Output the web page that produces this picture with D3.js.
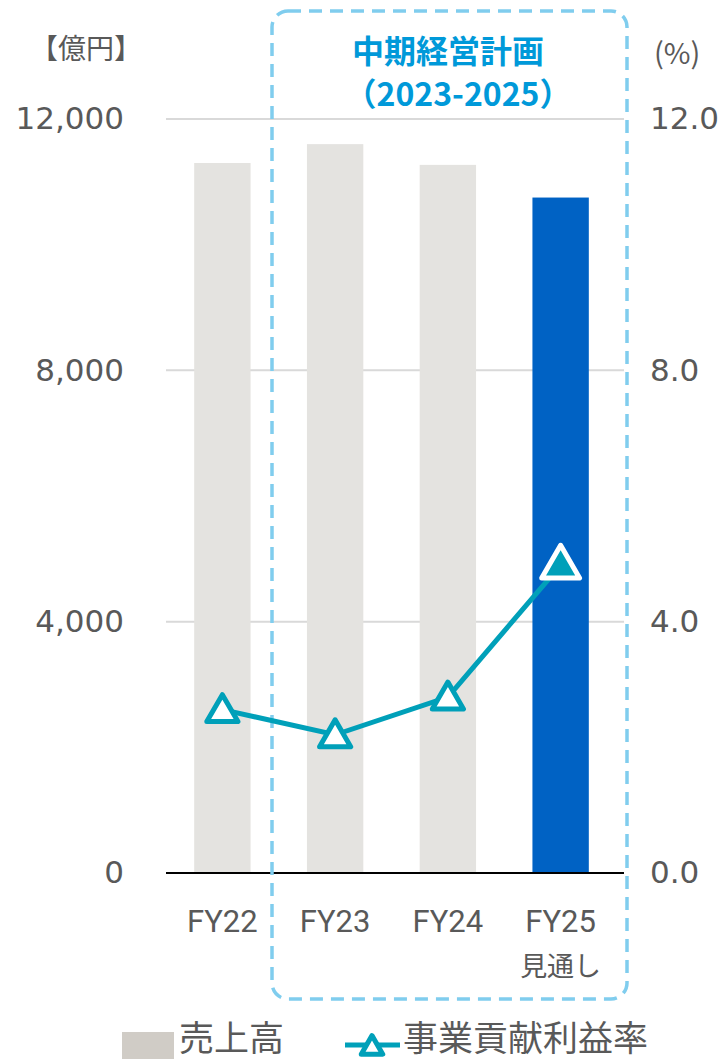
<!DOCTYPE html>
<html>
<head>
<meta charset="utf-8">
<script src="https://cdn.jsdelivr.net/npm/d3@7.9.0/dist/d3.min.js"></script>
<style>
  body { margin: 0; background: #fff; }
  svg { display: block; font-family: 'Noto Sans CJK JP', 'Noto Sans', sans-serif; }
</style>
</head>
<body>
<svg id="chart" width="726" height="1061"></svg>
<script>
const categories = ['FY22', 'FY23', 'FY24', 'FY25'];
const sales = [11300, 11600, 11270, 10750];
const margin = [2.6, 2.2, 2.8, 4.9];
const leftTicks = [0, 4000, 8000, 12000];
const rightTicks = [0, 4, 8, 12];

const svg = d3.select('#chart');
const gray = '#595959';

const x = d3.scaleBand().domain(categories).range([166, 617]).paddingInner(0.5).paddingOuter(0.25);
const yL = d3.scaleLinear().domain([0, 12000]).range([873, 119]);
const yR = d3.scaleLinear().domain([0, 12]).range([873, 119]);

// gridlines
svg.append('g')
  .selectAll('line')
  .data(leftTicks.filter((d) => d > 0))
  .join('line')
  .attr('x1', 166).attr('x2', 624)
  .attr('y1', (d) => yL(d)).attr('y2', (d) => yL(d))
  .attr('stroke', '#d9d9d9').attr('stroke-width', 2);

// left axis
const leftAxis = svg.append('g')
  .attr('transform', 'translate(124,0)')
  .call(d3.axisLeft(yL).tickValues(leftTicks).tickSize(0).tickPadding(0).tickFormat(d3.format(',')));
leftAxis.select('.domain').remove();
leftAxis.selectAll('text').attr('font-size', 31).attr('fill', gray).attr('font-family', 'DejaVu Sans');

// right axis
const rightAxis = svg.append('g')
  .attr('transform', 'translate(650,0)')
  .call(d3.axisRight(yR).tickValues(rightTicks).tickSize(0).tickPadding(0).tickFormat(d3.format('.1f')));
rightAxis.select('.domain').remove();
rightAxis.selectAll('text').attr('font-size', 31).attr('fill', gray).attr('font-family', 'DejaVu Sans');

// bars
svg.append('g')
  .selectAll('rect')
  .data(sales)
  .join('rect')
  .attr('x', (d, i) => x(categories[i]))
  .attr('width', x.bandwidth())
  .attr('y', (d) => yL(d))
  .attr('height', (d) => yL(0) - yL(d))
  .attr('fill', (d, i) => (i === 3 ? '#0062C4' : '#E4E3E0'));

// baseline
svg.append('line')
  .attr('x1', 166).attr('x2', 624)
  .attr('y1', yL(0)).attr('y2', yL(0))
  .attr('stroke', '#000').attr('stroke-width', 2);

// mid-term plan box
svg.append('rect')
  .attr('x', 272).attr('y', 11)
  .attr('width', 355).attr('height', 988)
  .attr('rx', 16)
  .attr('fill', 'none')
  .attr('stroke', '#80CDEE')
  .attr('stroke-width', 3.5)
  .attr('stroke-dasharray', '13 8');

svg.append('text')
  .attr('x', 448).attr('y', 63)
  .attr('text-anchor', 'middle')
  .attr('font-size', 32).attr('font-weight', 'bold').attr('fill', '#0099D9')
  .text('中期経営計画');
svg.append('text')
  .attr('x', 458).attr('y', 106)
  .attr('text-anchor', 'middle')
  .attr('font-size', 32).attr('font-weight', 'bold').attr('fill', '#0099D9')
  .text('（2023-2025）');

// line
const cx = (i) => x(categories[i]) + x.bandwidth() / 2;
const line = d3.line().x((d, i) => cx(i)).y((d) => yR(d));
svg.append('path')
  .datum(margin)
  .attr('d', line)
  .attr('fill', 'none')
  .attr('stroke', '#00A0B9')
  .attr('stroke-width', 5);

const tri = d3.symbol().type(d3.symbolTriangle);
svg.append('g')
  .selectAll('path')
  .data(margin)
  .join('path')
  .attr('transform', (d, i) => `translate(${cx(i)},${yR(d) + (i === 3 ? 2 : 3)})`)
  .attr('d', (d, i) => tri.size(i === 3 ? 620 : 420)())
  .attr('fill', (d, i) => (i === 3 ? '#00A0B9' : '#fff'))
  .attr('stroke', (d, i) => (i === 3 ? '#fff' : '#00A0B9'))
  .attr('stroke-width', 5)
  .attr('stroke-linejoin', 'round');

// x labels
svg.append('g')
  .selectAll('text')
  .data(categories)
  .join('text')
  .attr('x', (d) => x(d) + x.bandwidth() / 2)
  .attr('y', 932)
  .attr('text-anchor', 'middle')
  .attr('font-size', 31).attr('fill', gray).attr('font-family', 'Roboto')
  .text((d) => d);
svg.append('text')
  .attr('x', cx(3)).attr('y', 976)
  .attr('text-anchor', 'middle')
  .attr('font-size', 27).attr('fill', gray)
  .text('見通し');

// axis units
svg.append('text')
  .attr('x', 30).attr('y', 59)
  .attr('font-size', 28).attr('fill', gray)
  .text('【億円】');
svg.append('text')
  .attr('x', 654).attr('y', 64)
  .attr('font-size', 29).attr('fill', gray)
  .text('(%)');

// legend
svg.append('rect')
  .attr('x', 122).attr('y', 1032)
  .attr('width', 52).attr('height', 27)
  .attr('fill', '#D0CCC6');
svg.append('text')
  .attr('x', 179).attr('y', 1051)
  .attr('font-size', 35).attr('fill', gray)
  .text('売上高');
svg.append('line')
  .attr('x1', 345).attr('x2', 400)
  .attr('y1', 1045).attr('y2', 1045)
  .attr('stroke', '#00A0B9').attr('stroke-width', 5);
svg.append('path')
  .attr('transform', 'translate(372,1048)')
  .attr('d', d3.symbol().type(d3.symbolTriangle).size(200)())
  .attr('fill', '#fff').attr('stroke', '#00A0B9').attr('stroke-width', 5)
  .attr('stroke-linejoin', 'round');
svg.append('text')
  .attr('x', 403).attr('y', 1051)
  .attr('font-size', 35).attr('fill', gray)
  .text('事業貢献利益率');
</script>
</body>
</html>
